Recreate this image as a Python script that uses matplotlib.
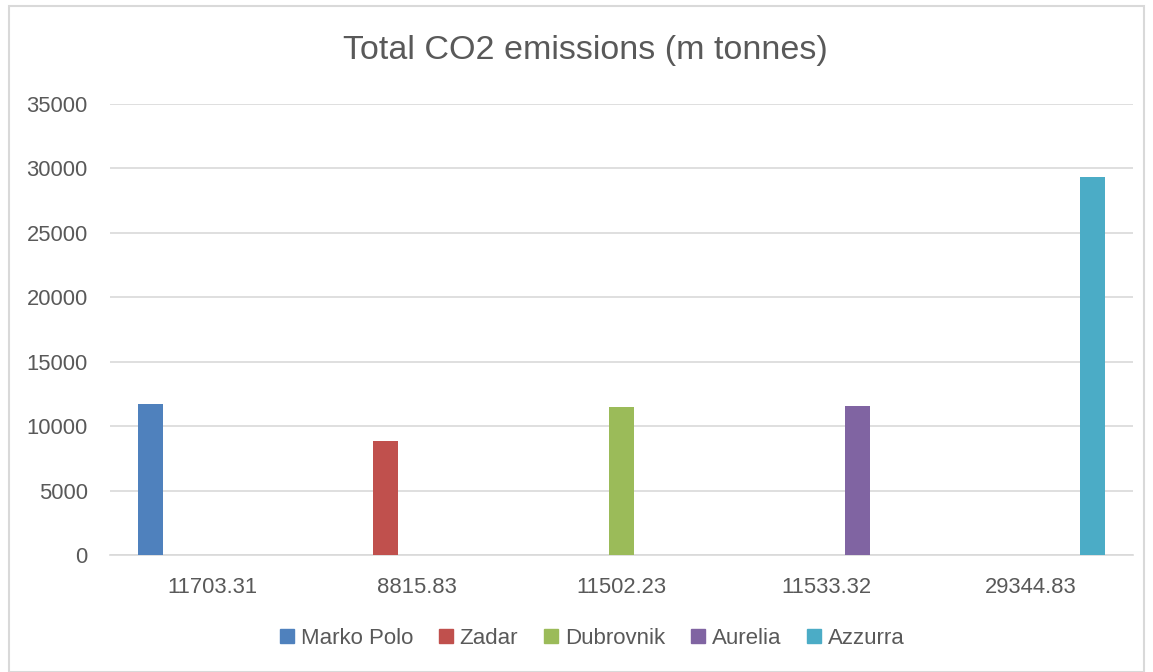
import numpy as np
import matplotlib.pyplot as plt
from matplotlib.lines import Line2D
from matplotlib.patches import Rectangle

plt.rcParams['font.family'] = ['Liberation Sans', 'DejaVu Sans']

# data
ships = ['Marko Polo', 'Zadar', 'Dubrovnik', 'Aurelia', 'Azzurra']
categories = ['11703.31', '8815.83', '11502.23', '11533.32', '29344.83']
emissions = [11703.31, 8815.83, 11502.23, 11533.32, 29344.83]
colors = ['#4F81BD', '#C0504D', '#9BBB59', '#8064A2', '#4BACC6']

fig = plt.figure(figsize=(11.53, 6.72), dpi=100)
ax = fig.add_axes([110/1153, 1 - 555/672, 1023/1153, 451/672])

x = np.arange(len(categories))
pitch = 0.1515
width = 0.122
n = len(ships)
for i, (name, col) in enumerate(zip(ships, colors)):
    # each series only has a value in its own category, others are blank
    vals = [emissions[i] if j == i else 0 for j in range(len(categories))]
    ax.bar(x + (i - (n - 1) / 2) * pitch, vals, width, color=col, label=name, zorder=3)

ax.set_xlim(-0.5, len(categories) - 0.5)
ax.set_ylim(0, 35000)
ax.set_yticks(np.arange(0, 35001, 5000))
ax.set_xticks(x)
ax.set_xticklabels(categories)
ax.grid(axis='y', color='#D9D9D9', linewidth=1.2, zorder=0)
for s in ['top', 'right', 'left']:
    ax.spines[s].set_visible(False)
ax.spines['bottom'].set_color('#D9D9D9')
ax.spines['bottom'].set_linewidth(1.2)
ax.tick_params(axis='both', length=0, labelsize=15.8, colors='#595959')
ax.tick_params(axis='y', pad=16)
ax.tick_params(axis='x', pad=16)

fig.text(0.508, 1 - 51/672, 'Total CO2 emissions (m tonnes)', ha='center', va='center',
         fontsize=24.5, color='#595959')

handles = [Line2D([], [], marker='s', linestyle='none', markersize=10, color=c) for c in colors]
fig.legend(handles, ships, loc='center', bbox_to_anchor=(0.512, 1 - 638/672), ncol=5,
           frameon=False, fontsize=16, labelcolor='#595959', handletextpad=0.1,
           columnspacing=1.0, handlelength=1.0)

fig.patches.append(Rectangle((9/1153, 0), 1 - 18/1153, 1 - 6/672, transform=fig.transFigure,
                             fill=False, edgecolor='#D9D9D9', linewidth=1.5))

fig.savefig('out.png', dpi=100)
